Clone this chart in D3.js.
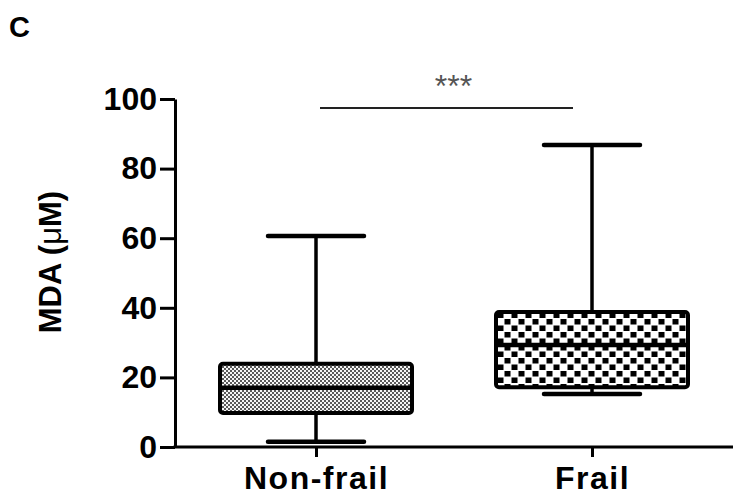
<!DOCTYPE html>
<html>
<head>
<meta charset="utf-8">
<script src="https://cdn.jsdelivr.net/npm/d3@7"></script>
<style>
  html, body { margin: 0; padding: 0; background: #fff; }
  svg { display: block; font-family: "Liberation Sans", Arial, sans-serif; }
</style>
</head>
<body>
<script>
// Groups and box-plot summary statistics for MDA (µM)
const categories = ["Non-frail", "Frail"];
const minVals    = [1.5, 15.2];
const q1Vals     = [9.8, 17.2];
const medianVals = [17.0, 29.3];
const q3Vals     = [23.9, 38.8];
const maxVals    = [60.6, 86.8];
const patterns   = ["fineDots", "coarseCheck"];
const yTicks     = [0, 20, 40, 60, 80, 100];
const sigLevel   = 97.4;
const sigLabel   = "***";

const W = 734, H = 497;
const svg = d3.select("body").append("svg").attr("width", W).attr("height", H);

const y = d3.scaleLinear().domain([0, 100]).range([447, 99]);
const x = d3.scalePoint().domain(categories).range([316, 592]);
const axisX0 = 175, axisX1 = 733;
const boxHalf = 96, capHalf = 48;

// Fill patterns for the boxes
const defs = svg.append("defs");
const p1 = defs.append("pattern").attr("id", "fineDots")
  .attr("patternUnits", "userSpaceOnUse").attr("width", 4).attr("height", 4);
p1.append("rect").attr("width", 4).attr("height", 4).attr("fill", "#f6f6f6");
p1.append("rect").attr("x", 0).attr("y", 0).attr("width", 2).attr("height", 2).attr("fill", "#5a5a5a");
p1.append("rect").attr("x", 2).attr("y", 2).attr("width", 2).attr("height", 2).attr("fill", "#5a5a5a");

const p2 = defs.append("pattern").attr("id", "coarseCheck")
  .attr("patternUnits", "userSpaceOnUse").attr("width", 14).attr("height", 13)
  .attr("x", 497).attr("y", 312);
p2.append("rect").attr("width", 14).attr("height", 13).attr("fill", "#fff");
p2.append("rect").attr("x", 0.5).attr("y", 0.5).attr("width", 6).attr("height", 5.5).attr("fill", "#000");
p2.append("rect").attr("x", 7.5).attr("y", 7).attr("width", 6).attr("height", 5.5).attr("fill", "#000");

// Panel letter
svg.append("text").attr("x", 9).attr("y", 37)
  .attr("font-size", 29).attr("font-weight", "bold").text("C");

// Y axis
const gy = svg.append("g").attr("transform", `translate(${axisX0},0)`)
  .call(d3.axisLeft(y).tickValues(yTicks).tickSize(15).tickPadding(3).tickSizeOuter(0));
gy.select(".domain").attr("stroke", "#000").attr("stroke-width", 3);
gy.selectAll(".tick line").attr("stroke", "#000").attr("stroke-width", 3);
gy.selectAll(".tick text").attr("fill", "#000").attr("font-size", 32)
  .attr("font-weight", "bold").attr("font-family", "Liberation Sans, Arial, sans-serif");

// Y axis title
const yt = svg.append("text")
  .attr("transform", "translate(61,262) rotate(-90)")
  .attr("text-anchor", "middle").attr("font-size", 31).attr("font-weight", "bold");
yt.append("tspan").text("MDA (");
yt.append("tspan").attr("font-weight", "normal").text("\u03bc");
yt.append("tspan").text("M)");

// X axis
svg.append("line").attr("x1", axisX0 - 1.5).attr("x2", axisX1).attr("y1", y(0)).attr("y2", y(0))
  .attr("stroke", "#000").attr("stroke-width", 3);
const gx = svg.append("g").attr("transform", `translate(0,${y(0)})`)
  .call(d3.axisBottom(x).tickSize(10).tickPadding(9).tickSizeOuter(0));
gx.select(".domain").remove();
gx.selectAll(".tick line").attr("stroke", "#000").attr("stroke-width", 3);
gx.selectAll(".tick text").attr("fill", "#000").attr("font-size", 32)
  .attr("letter-spacing", 1.5)
  .attr("font-weight", "bold").attr("font-family", "Liberation Sans, Arial, sans-serif");

// Box plots
const data = categories.map((c, i) => ({
  c, min: minVals[i], q1: q1Vals[i], med: medianVals[i], q3: q3Vals[i], max: maxVals[i], pat: patterns[i]
}));
const g = svg.append("g");
const boxes = g.selectAll("g.box").data(data).join("g").attr("class", "box");

boxes.append("line")
  .attr("x1", d => x(d.c)).attr("x2", d => x(d.c))
  .attr("y1", d => y(d.min)).attr("y2", d => y(d.max))
  .attr("stroke", "#000").attr("stroke-width", 3.5);
boxes.append("line")
  .attr("x1", d => x(d.c) - capHalf).attr("x2", d => x(d.c) + capHalf)
  .attr("y1", d => y(d.max)).attr("y2", d => y(d.max))
  .attr("stroke", "#000").attr("stroke-width", 4.5).attr("stroke-linecap", "round");
boxes.append("line")
  .attr("x1", d => x(d.c) - capHalf).attr("x2", d => x(d.c) + capHalf)
  .attr("y1", d => y(d.min)).attr("y2", d => y(d.min))
  .attr("stroke", "#000").attr("stroke-width", 4.5).attr("stroke-linecap", "round");
boxes.append("rect")
  .attr("x", d => x(d.c) - boxHalf).attr("width", boxHalf * 2)
  .attr("y", d => y(d.q3)).attr("height", d => y(d.q1) - y(d.q3))
  .attr("rx", 3)
  .attr("fill", d => `url(#${d.pat})`)
  .attr("stroke", "#000").attr("stroke-width", 4);
boxes.append("line")
  .attr("x1", d => x(d.c) - boxHalf).attr("x2", d => x(d.c) + boxHalf)
  .attr("y1", d => y(d.med)).attr("y2", d => y(d.med))
  .attr("stroke", "#000").attr("stroke-width", 4.5);

// Significance bar
const sx0 = x(categories[0]) + 4, sx1 = x(categories[1]) - 19;
svg.append("line").attr("x1", sx0).attr("x2", sx1).attr("y1", y(sigLevel)).attr("y2", y(sigLevel))
  .attr("stroke", "#222").attr("stroke-width", 2);
svg.append("text").attr("x", (sx0 + sx1) / 2 + 7).attr("y", y(sigLevel) - 11)
  .attr("text-anchor", "middle").attr("font-size", 32).attr("fill", "#555").text(sigLabel);
</script>
</body>
</html>
